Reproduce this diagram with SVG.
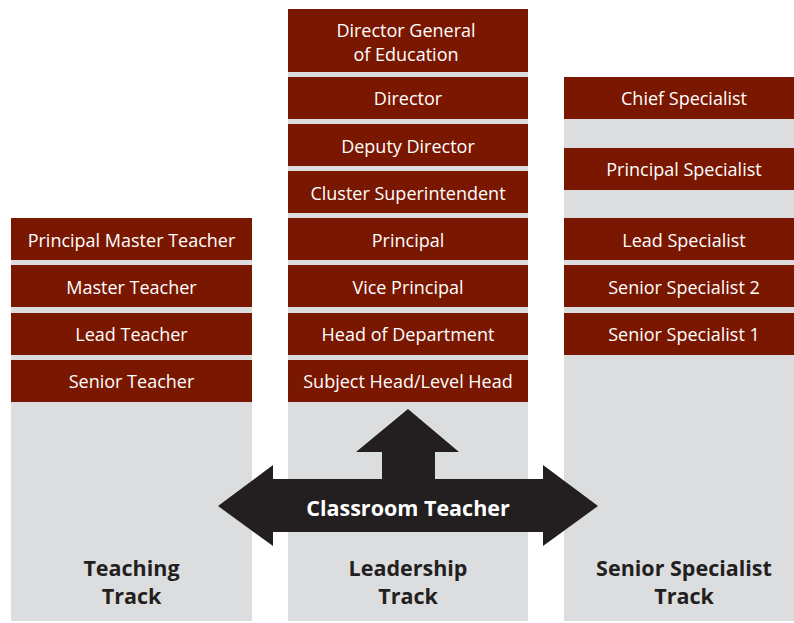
<svg xmlns="http://www.w3.org/2000/svg" width="794" height="623" viewBox="0 0 794 623">
<style>
.col{fill:#dcdddf}
.box{fill:#7a1700}
.bt{font-family:"Open Sans","Noto Sans",sans-serif;font-size:18px;fill:#ffffff;text-anchor:middle}
.lbl{font-family:"Open Sans","Noto Sans",sans-serif;font-size:21.5px;font-weight:bold;fill:#231f20;text-anchor:middle}
.ct{font-family:"Open Sans","Noto Sans",sans-serif;font-size:21.5px;font-weight:bold;fill:#ffffff;text-anchor:middle}
</style>
<rect width="794" height="623" fill="#ffffff"/>
<g id="teaching-track">
<rect class="col" x="11" y="218" width="241" height="403"/>
<text class="lbl" x="131.5" y="576">Teaching</text>
<text class="lbl" x="131.5" y="604">Track</text>
</g>
<g id="leadership-track">
<rect class="col" x="288" y="9" width="240" height="612"/>
<text class="lbl" x="408" y="576">Leadership</text>
<text class="lbl" x="408" y="604">Track</text>
</g>
<g id="specialist-track">
<rect class="col" x="564" y="77" width="230" height="544"/>
<text class="lbl" x="684" y="576">Senior Specialist</text>
<text class="lbl" x="684" y="604">Track</text>
</g>
<g id="principal-master-teacher"><rect class="box" x="11" y="218" width="241" height="42"/><text class="bt" x="131.5" y="247">Principal Master Teacher</text></g>
<g id="master-teacher"><rect class="box" x="11" y="265" width="241" height="42"/><text class="bt" x="131.5" y="294">Master Teacher</text></g>
<g id="lead-teacher"><rect class="box" x="11" y="313" width="241" height="42"/><text class="bt" x="131.5" y="341">Lead Teacher</text></g>
<g id="senior-teacher"><rect class="box" x="11" y="360" width="241" height="42"/><text class="bt" x="131.5" y="388">Senior Teacher</text></g>
<g id="director-general"><rect class="box" x="288" y="9" width="240" height="63"/><text class="bt" x="406" y="37">Director General</text><text class="bt" x="406" y="61">of Education</text></g>
<g id="director"><rect class="box" x="288" y="77" width="240" height="42"/><text class="bt" x="408" y="105">Director</text></g>
<g id="deputy-director"><rect class="box" x="288" y="124" width="240" height="42"/><text class="bt" x="408" y="153">Deputy Director</text></g>
<g id="cluster-superintendent"><rect class="box" x="288" y="171" width="240" height="42"/><text class="bt" x="408" y="200">Cluster Superintendent</text></g>
<g id="principal"><rect class="box" x="288" y="218" width="240" height="42"/><text class="bt" x="408" y="247">Principal</text></g>
<g id="vice-principal"><rect class="box" x="288" y="265" width="240" height="42"/><text class="bt" x="408" y="294">Vice Principal</text></g>
<g id="head-of-department"><rect class="box" x="288" y="313" width="240" height="42"/><text class="bt" x="408" y="341">Head of Department</text></g>
<g id="subject-head"><rect class="box" x="288" y="360" width="240" height="42"/><text class="bt" x="408" y="388">Subject Head/Level Head</text></g>
<g id="chief-specialist"><rect class="box" x="564" y="77" width="230" height="42"/><text class="bt" x="684" y="105">Chief Specialist</text></g>
<g id="principal-specialist"><rect class="box" x="564" y="148" width="230" height="42"/><text class="bt" x="684" y="176">Principal Specialist</text></g>
<g id="lead-specialist"><rect class="box" x="564" y="218" width="230" height="42"/><text class="bt" x="684" y="247">Lead Specialist</text></g>
<g id="senior-specialist-2"><rect class="box" x="564" y="265" width="230" height="42"/><text class="bt" x="684" y="294">Senior Specialist 2</text></g>
<g id="senior-specialist-1"><rect class="box" x="564" y="313" width="230" height="42"/><text class="bt" x="684" y="341">Senior Specialist 1</text></g>
<g id="connectors">
<path d="M408 409 L459 452 L435 452 L435 479 L543 479 L543 465 L598 506 L543 546 L543 532 L273 532 L273 546 L218 506 L273 465 L273 479 L382 479 L382 452 L356 452 Z" fill="#231f20"/>
</g>
<g id="classroom-teacher"><text class="ct" x="408" y="516">Classroom Teacher</text></g>
</svg>
